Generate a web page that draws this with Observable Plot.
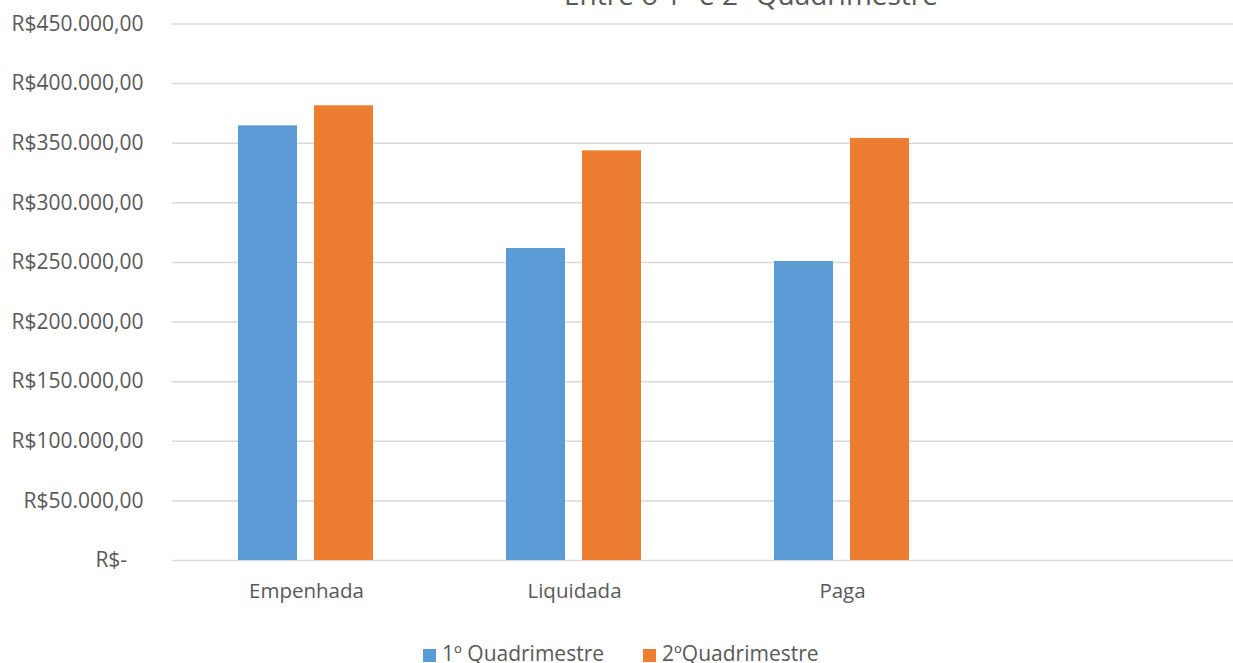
<!DOCTYPE html>
<html>
<head>
<meta charset="utf-8">
<script src="https://cdn.jsdelivr.net/npm/d3@7"></script>
<script src="https://cdn.jsdelivr.net/npm/@observablehq/plot@0.6"></script>
<style>
  html, body { margin: 0; padding: 0; background: #fff; overflow: hidden; }
  #wrap { position: relative; width: 1233px; height: 663px; overflow: hidden; font-family: "Open Sans", sans-serif; color: #595959; }
  #title { position: absolute; top: -20px; left: 751px; transform: translateX(-50%); font-size: 28px; line-height: 28px; white-space: nowrap; z-index: 2; }
  #legend { position: relative; width: 1233px; height: 38px; }
  .sw { position: absolute; width: 13px; height: 13px; top: 24px; }
  .lt { position: absolute; top: 18px; font-size: 21px; line-height: 21px; white-space: nowrap; }
</style>
</head>
<body>
<div id="wrap">
  <div id="title">Entre o 1º e 2º Quadrimestre</div>
  <div id="chart"></div>
  <div id="legend"></div>
</div>
<script>
const categories = ["Empenhada", "Liquidada", "Paga", ""];
const series = ["1º Quadrimestre", "2ºQuadrimestre"];
const q1Values = [364600, 261700, 250800, null];
const q2Values = [381400, 343600, 354000, null];
const yTicks = [0, 50000, 100000, 150000, 200000, 250000, 300000, 350000, 400000, 450000];
const colors = ["#5B9BD5", "#ED7D31"];

const data = [];
categories.forEach((c, i) => {
  data.push({cat: c, serie: series[0], value: q1Values[i]});
  data.push({cat: c, serie: series[1], value: q2Values[i]});
});

const brl = d3.formatLocale({decimal: ",", thousands: ".", grouping: [3], currency: ["R$", ""]}).format("$,.2f");
const fmt = d => d === 0 ? "R$-\u00a0\u00a0\u00a0" : brl(d);

const chart = Plot.plot({
  width: 1233,
  height: 625,
  marginLeft: 172,
  marginRight: 0,
  marginTop: 23.5,
  marginBottom: 65,
  style: {fontFamily: "'Open Sans', sans-serif", fontSize: "21px", color: "#595959", background: "white", overflow: "hidden"},
  fx: {domain: categories, range: [172, 1244.8], padding: 0, label: null},
  x: {domain: series, paddingInner: 0.218, paddingOuter: 0.857, axis: null},
  y: {domain: [0, 450000], axis: null},
  color: {domain: series, range: colors},
  marks: [
    Plot.ruleY(yTicks, {stroke: "#d9d9d9", strokeWidth: 1.5}),
    Plot.barY(data, {fx: "cat", x: "serie", y: "value", fill: "serie"}),
    Plot.axisY({ticks: yTicks, tickSize: 0, tickPadding: 29, tickFormat: fmt, label: null, fontSize: 21, fill: "#595959"}),
    Plot.axisFx({anchor: "bottom", tickSize: 0, tickPadding: 23, label: null, fontSize: 20.5, fill: "#595959"})
  ]
});
document.getElementById("chart").appendChild(chart);

const legend = document.getElementById("legend");
const legendPos = [{sw: 422.7, tx: 442}, {sw: 643, tx: 662}];
series.forEach((s, i) => {
  const sw = document.createElement("div");
  sw.className = "sw";
  sw.style.left = legendPos[i].sw + "px";
  sw.style.background = colors[i];
  legend.appendChild(sw);
  const t = document.createElement("div");
  t.className = "lt";
  t.style.left = legendPos[i].tx + "px";
  t.textContent = s;
  legend.appendChild(t);
});
</script>
</body>
</html>
